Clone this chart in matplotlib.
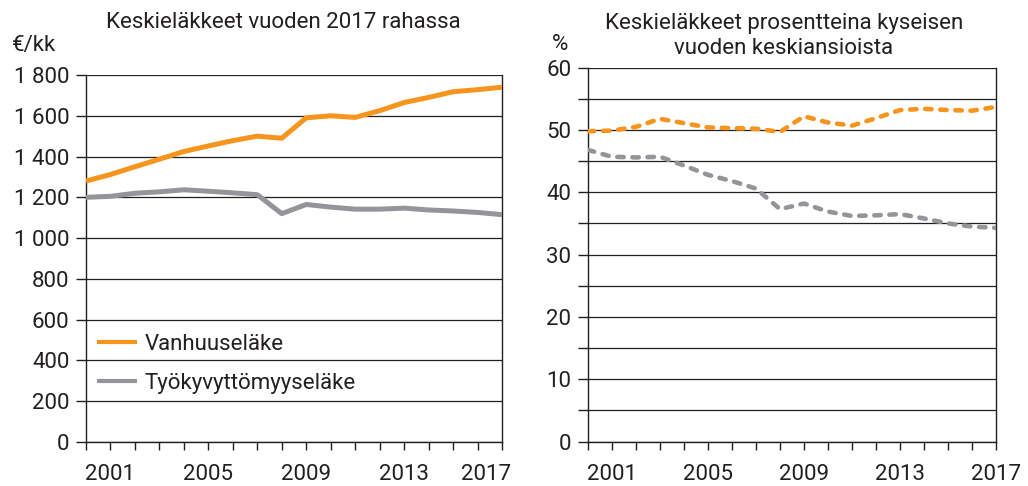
import matplotlib
matplotlib.use("Agg")
import matplotlib.pyplot as plt
import matplotlib.transforms as mtransforms
import numpy as np

plt.rcParams['font.family'] = ['Roboto', 'DejaVu Sans']

years = list(range(2000, 2018))
xtick_years = [2001, 2005, 2009, 2013, 2017]

# Left: euros per month in 2017 money
vanhuus_eur = [1280, 1312, 1350, 1387, 1425, 1452, 1478, 1500, 1490, 1590,
               1600, 1592, 1625, 1665, 1690, 1718, 1728, 1740]
tyokyvyttomyys_eur = [1200, 1205, 1220, 1227, 1237, 1230, 1222, 1213, 1120, 1165,
                      1152, 1142, 1142, 1147, 1138, 1133, 1126, 1115]

# Right: percent of average earnings
vanhuus_pct = [49.8, 49.9, 50.5, 51.8, 51.1, 50.4, 50.3, 50.2, 49.7, 52.2,
               51.2, 50.7, 51.9, 53.2, 53.4, 53.2, 53.1, 53.7]
tyokyvyttomyys_pct = [46.8, 45.7, 45.6, 45.7, 44.3, 42.8, 41.8, 40.6, 37.3, 38.2,
                      36.9, 36.2, 36.3, 36.5, 35.8, 35.0, 34.5, 34.3]

labels = ['Vanhuuseläke', 'Työkyvyttömyyseläke']
title_left = 'Keskieläkkeet vuoden 2017 rahassa'
title_right = 'Keskieläkkeet prosentteina kyseisen\nvuoden keskiansioista'

ORANGE = '#F7941D'
GRAY = '#939598'
DARK = '#231F20'
FS = 16

W, H = 1028, 486
fig = plt.figure(figsize=(W / 100, H / 100), dpi=100)

def fx(px):
    return px / W

def fy(px):
    return 1 - px / H

axL = fig.add_axes([fx(86), fy(442), fx(502) - fx(86), fy(75) - fy(442)])
axR = fig.add_axes([fx(588), fy(441.5), fx(996) - fx(588), fy(67.7) - fy(441.5)])

for ax in (axL, axR):
    ax.set_xlim(years[0], years[-1])
    ax.set_xticks(years)
    ax.set_xticklabels([str(y) if y in xtick_years else '' for y in years])
    for s in ['left', 'right', 'bottom']:
        ax.spines[s].set_color(DARK)
        ax.spines[s].set_linewidth(1.0)
    ax.spines['top'].set_visible(False)
    ax.tick_params(axis='x', direction='out', length=6, width=1, color=DARK,
                   labelsize=FS, pad=10, labelcolor=DARK)
    ax.tick_params(axis='y', direction='out', length=7, width=1, color=DARK,
                   labelsize=FS, pad=5, labelcolor=DARK)
    ax.grid(axis='y', color=DARK, linewidth=0.9)
    ax.set_axisbelow(True)

# Left panel
axL.set_ylim(0, 1800)
yt = np.arange(0, 1801, 200)
axL.set_yticks(yt)
axL.set_yticklabels([f'{v:,}'.replace(',', ' ') for v in yt])
axL.plot(years, vanhuus_eur, color=ORANGE, lw=3.6, solid_capstyle='butt', label=labels[0], zorder=3)
axL.plot(years, tyokyvyttomyys_eur, color=GRAY, lw=3.6, solid_capstyle='butt', label=labels[1], zorder=3)
leg = axL.legend(loc='upper left', bbox_to_anchor=(0.0, 0.325), frameon=False, fontsize=FS,
                 handlelength=1.8, handletextpad=0.35, labelspacing=0.8, borderaxespad=0.1)
for t in leg.get_texts():
    t.set_color(DARK)
for h in leg.legend_handles:
    h.set_linewidth(3.0)

# shift the last left x label inward, as in the reference
lab = [t for t in axL.get_xticklabels() if t.get_text() == '2017']
for t in lab:
    t.set_transform(t.get_transform() + mtransforms.ScaledTranslation(-16 / 100, 0, fig.dpi_scale_trans))

fig.text(fx(283), fy(22), title_left, ha='center', va='center', fontsize=FS, color=DARK)
fig.text(fx(12), fy(45), '€/kk', ha='left', va='center', fontsize=FS, color=DARK)

# Right panel
axR.set_ylim(0, 60)
axR.set_yticks(np.arange(0, 61, 5))
axR.set_yticklabels([str(v) if v % 10 == 0 else '' for v in range(0, 61, 5)])
dash = (1.4, 1.9)
axR.plot(years, vanhuus_pct, color=ORANGE, lw=3.3, linestyle=(0, dash), dash_capstyle='round', zorder=3)
axR.plot(years, tyokyvyttomyys_pct, color=GRAY, lw=3.3, linestyle=(0, dash), dash_capstyle='round', zorder=3)
fig.text(fx(784), fy(36), title_right, ha='center', va='center', fontsize=FS, color=DARK,
         linespacing=1.25)
fig.text(fx(560), fy(45), '%', ha='center', va='center', fontsize=FS, color=DARK)

fig.savefig('out.png', dpi=100)
